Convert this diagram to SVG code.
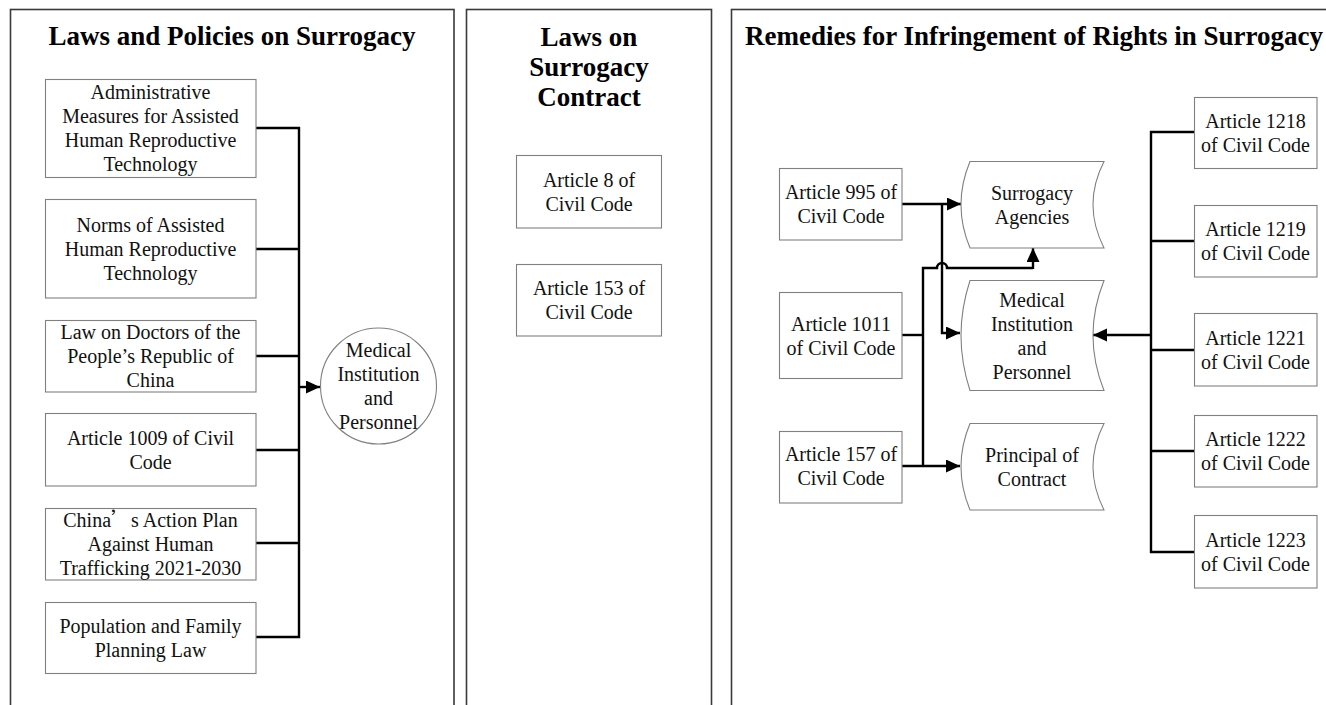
<svg xmlns="http://www.w3.org/2000/svg" width="1326" height="705" viewBox="0 0 1326 705">
<style>
  .panel{fill:none;stroke:#3a3a3a;stroke-width:1.6}
  .box{fill:#fff;stroke:#808080;stroke-width:1.1}
  .title{font-family:"Liberation Serif","Times New Roman",serif;font-weight:bold;font-size:27px;fill:#000;text-anchor:middle}
  .t{font-family:"Liberation Serif","Times New Roman",serif;font-size:20px;fill:#111;text-anchor:middle}
  .c{fill:none;stroke:#000;stroke-width:2.4}
  .ca{fill:none;stroke:#000;stroke-width:2.4;marker-end:url(#ah)}
</style>
<defs>
  <marker id="ah" markerUnits="userSpaceOnUse" markerWidth="16" markerHeight="14" refX="14" refY="6.5" orient="auto">
    <path d="M0,0 L14,6.5 L0,13 Z" fill="#000"/>
  </marker>
</defs>
<rect width="1326" height="705" fill="#fff"/>

<g id="panels">
  <rect class="panel" x="10.5" y="9.5" width="443.5" height="720"/>
  <rect class="panel" x="466.5" y="9.5" width="245" height="720"/>
  <rect class="panel" x="731.5" y="9.5" width="620" height="720"/>
  <text class="title" x="232" y="45">Laws and Policies on Surrogacy</text>
  <text class="title" x="589" y="46">Laws on</text>
  <text class="title" x="589" y="76">Surrogacy</text>
  <text class="title" x="589" y="106">Contract</text>
  <text class="title" x="1034" y="45">Remedies for Infringement of Rights in Surrogacy</text>
</g>

<g id="connectors">
  <!-- left panel -->
  <path class="c" d="M256,128 H299 V637 H256"/>
  <path class="c" d="M256,249 H299 M256,356 H299 M256,450 H299 M256,543 H299"/>
  <path class="ca" d="M299,387 H320"/>
  <!-- right panel -->
  <path class="ca" d="M902,204 H961"/>
  <path class="ca" d="M942,204 V333 H960"/>
  <path class="c" d="M902,335 H923"/>
  <path class="c" d="M923,466 V268 H937 A5,5 0 0 1 947,268 H1033"/>
  <path class="ca" d="M1033,269 V248"/>
  <path class="ca" d="M902,466 H960"/>
  <path class="c" d="M1194,132 H1151 V552 H1194 M1151,241 H1194 M1151,350 H1194 M1151,451 H1194"/>
  <path class="ca" d="M1151,335 H1093"/>
</g>

<g id="n-admin"><rect class="box" x="45.5" y="79.5" width="210.5" height="98"/>
  <text class="t" x="150.5" y="99">Administrative</text><text class="t" x="150.5" y="123">Measures for Assisted</text><text class="t" x="150.5" y="147">Human Reproductive</text><text class="t" x="150.5" y="171">Technology</text></g>
<g id="n-norms"><rect class="box" x="45.5" y="199.5" width="210.5" height="98.5"/>
  <text class="t" x="150.5" y="231.5">Norms of Assisted</text><text class="t" x="150.5" y="255.5">Human Reproductive</text><text class="t" x="150.5" y="279.5">Technology</text></g>
<g id="n-doctors"><rect class="box" x="45.5" y="320.5" width="210.5" height="71.5"/>
  <text class="t" x="150.5" y="339">Law on Doctors of the</text><text class="t" x="150.5" y="363">People’s Republic of</text><text class="t" x="150.5" y="387">China</text></g>
<g id="n-a1009"><rect class="box" x="45.5" y="413.5" width="210.5" height="72.5"/>
  <text class="t" x="150.5" y="444.5">Article 1009 of Civil</text><text class="t" x="150.5" y="468.5">Code</text></g>
<g id="n-action"><rect class="box" x="45.5" y="508.5" width="210.5" height="71.5"/>
  <text class="t" x="150.5" y="527">China<tspan font-family="'Noto Sans CJK SC',sans-serif">’</tspan>s Action Plan</text><text class="t" x="150.5" y="551">Against Human</text><text class="t" x="150.5" y="575">Trafficking 2021-2030</text></g>
<g id="n-population"><rect class="box" x="45.5" y="602.5" width="210.5" height="71"/>
  <text class="t" x="150.5" y="632.5">Population and Family</text><text class="t" x="150.5" y="656.5">Planning Law</text></g>
<g id="n-medical-left"><circle cx="378.5" cy="386" r="58" fill="#fff" stroke="#808080" stroke-width="1.1"/>
  <text class="t" x="378.5" y="357">Medical</text><text class="t" x="378.5" y="381">Institution</text><text class="t" x="378.5" y="405">and</text><text class="t" x="378.5" y="429">Personnel</text></g>

<g id="n-a8"><rect class="box" x="516.5" y="155.5" width="145" height="72.5"/>
  <text class="t" x="589" y="186.5">Article 8 of</text><text class="t" x="589" y="210.5">Civil Code</text></g>
<g id="n-a153"><rect class="box" x="516.5" y="264.5" width="145" height="71.5"/>
  <text class="t" x="589" y="295">Article 153 of</text><text class="t" x="589" y="319">Civil Code</text></g>

<g id="n-a995"><rect class="box" x="779.5" y="168.5" width="122.5" height="71.5"/>
  <text class="t" x="841" y="199">Article 995 of</text><text class="t" x="841" y="223">Civil Code</text></g>
<g id="n-a1011"><rect class="box" x="779.5" y="292.5" width="122.5" height="86"/>
  <text class="t" x="841" y="330.5">Article 1011</text><text class="t" x="841" y="354.5">of Civil Code</text></g>
<g id="n-a157"><rect class="box" x="779.5" y="431.5" width="122.5" height="71.5"/>
  <text class="t" x="841" y="461">Article 157 of</text><text class="t" x="841" y="485">Civil Code</text></g>

<g id="n-agencies"><path class="box" d="M970,161.5 H1104 Q1082,204.5 1104,248 H970 Q952,204.5 970,161.5 Z"/>
  <text class="t" x="1032" y="199.5">Surrogacy</text><text class="t" x="1032" y="223.5">Agencies</text></g>
<g id="n-medical-right"><path class="box" d="M970,280.5 H1104 Q1082,335.5 1104,390.5 H970 Q952,335.5 970,280.5 Z"/>
  <text class="t" x="1032" y="306.5">Medical</text><text class="t" x="1032" y="330.5">Institution</text><text class="t" x="1032" y="354.5">and</text><text class="t" x="1032" y="378.5">Personnel</text></g>
<g id="n-principal"><path class="box" d="M970,423.5 H1104 Q1082,466.5 1104,510 H970 Q952,466.5 970,423.5 Z"/>
  <text class="t" x="1032" y="461.5">Principal of</text><text class="t" x="1032" y="485.5">Contract</text></g>

<g id="n-a1218"><rect class="box" x="1194.5" y="97.5" width="122.5" height="71"/>
  <text class="t" x="1255.5" y="127.5">Article 1218</text><text class="t" x="1255.5" y="151.5">of Civil Code</text></g>
<g id="n-a1219"><rect class="box" x="1194.5" y="205.5" width="122.5" height="71.5"/>
  <text class="t" x="1255.5" y="236">Article 1219</text><text class="t" x="1255.5" y="260">of Civil Code</text></g>
<g id="n-a1221"><rect class="box" x="1194.5" y="313.5" width="122.5" height="72.5"/>
  <text class="t" x="1255.5" y="344.5">Article 1221</text><text class="t" x="1255.5" y="368.5">of Civil Code</text></g>
<g id="n-a1222"><rect class="box" x="1194.5" y="415.5" width="122.5" height="71.5"/>
  <text class="t" x="1255.5" y="446">Article 1222</text><text class="t" x="1255.5" y="470">of Civil Code</text></g>
<g id="n-a1223"><rect class="box" x="1194.5" y="515.5" width="122.5" height="72.5"/>
  <text class="t" x="1255.5" y="546.5">Article 1223</text><text class="t" x="1255.5" y="570.5">of Civil Code</text></g>
</svg>
